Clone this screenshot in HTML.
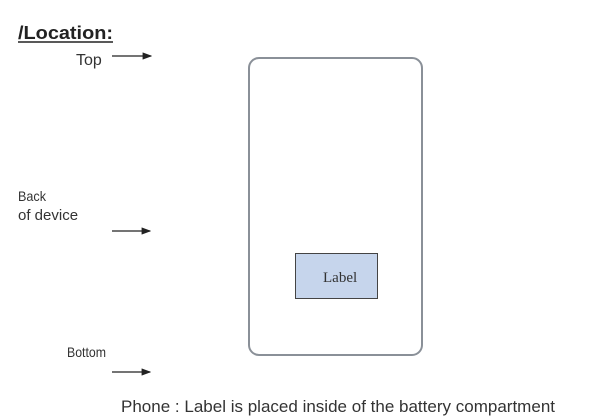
<!DOCTYPE html>
<html><head><style>body{margin:0;background:#fff}svg{display:block}</style></head><body>
<svg width="601" height="420" xmlns="http://www.w3.org/2000/svg" font-family="Liberation Sans, sans-serif">
<defs><marker id="a" markerWidth="8" markerHeight="6" refX="7" refY="3" orient="auto"><path d="M0,0 L8,3 L0,6 Z" fill="#222"/></marker></defs>
<text x="18" y="39" font-size="18" font-weight="bold" fill="#222" textLength="95" lengthAdjust="spacingAndGlyphs">/Location:</text>
<line x1="18" y1="42" x2="113" y2="42" stroke="#222" stroke-width="1.5"/>
<text x="76" y="65" font-size="16" fill="#333">Top</text>
<line x1="112" y1="56" x2="151" y2="56" stroke="#222" stroke-width="1.2" marker-end="url(#a)"/>
<text x="18" y="201" font-size="14" fill="#333" textLength="28" lengthAdjust="spacingAndGlyphs">Back</text>
<text x="18" y="220" font-size="15" fill="#333">of device</text>
<line x1="112" y1="231" x2="150" y2="231" stroke="#222" stroke-width="1.2" marker-end="url(#a)"/>
<text x="67" y="357" font-size="14" fill="#333" textLength="39" lengthAdjust="spacingAndGlyphs">Bottom</text>
<line x1="112" y1="372" x2="150" y2="372" stroke="#222" stroke-width="1.2" marker-end="url(#a)"/>
<rect x="249" y="58" width="173" height="297" rx="10" fill="#fff" stroke="#8a9098" stroke-width="2"/>
<rect x="295.5" y="253.5" width="82" height="45" fill="#c6d5ec" stroke="#444" stroke-width="1"/>
<text x="323" y="282" font-size="15" font-family="Liberation Serif, serif" fill="#333">Label</text>
<text x="121" y="412" font-size="16.5" fill="#333" textLength="434" lengthAdjust="spacingAndGlyphs">Phone : Label is placed inside of the battery compartment</text>
</svg>
</body></html>
